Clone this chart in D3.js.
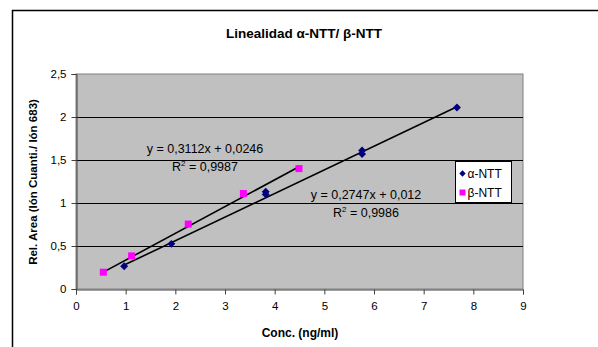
<!DOCTYPE html>
<html>
<head>
<meta charset="utf-8">
<script src="https://cdn.jsdelivr.net/npm/d3@7"></script>
<style>
  body { margin: 0; background: #fff; }
  svg { display: block; font-family: "Liberation Sans", Arial, sans-serif; }
</style>
</head>
<body>
<div id="chart"></div>
<script>
// data
const alphaX = [0.97, 1.92, 3.82, 3.82, 5.76, 5.76, 7.67];
const alphaY = [0.265, 0.525, 1.10, 1.13, 1.57, 1.61, 2.11];
const betaX = [0.55, 1.12, 2.26, 3.37, 4.49];
const betaY = [0.195, 0.385, 0.755, 1.11, 1.40];
const alphaFit = { slope: 0.2747, intercept: 0.012, eq: 'y = 0,2747x + 0,012', r2: '0,9986' };
const betaFit = { slope: 0.3112, intercept: 0.0246, eq: 'y = 0,3112x + 0,0246', r2: '0,9987' };
const xTicks = [0, 1, 2, 3, 4, 5, 6, 7, 8, 9];
const yTicks = [0, 0.5, 1, 1.5, 2, 2.5];
const seriesNames = ['α-NTT', 'β-NTT'];

const width = 598, height = 347;
const plot = { left: 76, right: 523, top: 74, bottom: 289 };

const svg = d3.select('#chart').append('svg')
  .attr('width', width)
  .attr('height', height);

// outer frame (cut off on right and bottom)
svg.append('path')
  .attr('d', `M12.5,${height} V10.5 H${width}`)
  .attr('fill', 'none')
  .attr('stroke', '#000')
  .attr('stroke-width', 1.5);

const x = d3.scaleLinear().domain([0, 9]).range([plot.left, plot.right]);
const y = d3.scaleLinear().domain([0, 2.5]).range([plot.bottom, plot.top]);
const fmt = d => String(d).replace('.', ',');

svg.append('rect')
  .attr('x', plot.left)
  .attr('y', plot.top)
  .attr('width', plot.right - plot.left)
  .attr('height', plot.bottom - plot.top)
  .attr('fill', '#c0c0c0')
  .attr('stroke', '#808080')
  .attr('stroke-width', 1);

// gridlines
svg.append('g')
  .selectAll('line')
  .data(yTicks.filter(d => d > 0 && d < 2.5))
  .enter()
  .append('line')
  .attr('x1', plot.left)
  .attr('x2', plot.right)
  .attr('y1', d => Math.round(y(d)) + 0.5)
  .attr('y2', d => Math.round(y(d)) + 0.5)
  .attr('stroke', '#000')
  .attr('stroke-width', 1);

// axes
const xAxis = svg.append('g')
  .attr('transform', `translate(0,${plot.bottom + 0.5})`)
  .call(d3.axisBottom(x).tickValues(xTicks).tickSize(5).tickFormat(fmt));
const yAxis = svg.append('g')
  .attr('transform', `translate(${plot.left + 0.5},0)`)
  .call(d3.axisLeft(y).tickValues(yTicks).tickSize(5).tickFormat(fmt));

[xAxis, yAxis].forEach(a => {
  a.select('.domain').attr('stroke', '#404040');
  a.selectAll('.tick line').attr('stroke', '#404040');
  a.selectAll('.tick text')
    .style('font-size', '11.5px')
    .style('font-family', '"Liberation Sans", Arial, sans-serif')
    .attr('fill', '#000');
});
xAxis.selectAll('.tick text').attr('y', 8).attr('dy', '1.05em');
yAxis.selectAll('.tick text').attr('x', -10);

// trend lines
const fits = [
  { fit: betaFit, xs: betaX },
  { fit: alphaFit, xs: alphaX }
];
svg.append('g')
  .selectAll('line')
  .data(fits)
  .enter()
  .append('line')
  .attr('x1', d => x(d3.min(d.xs)))
  .attr('x2', d => x(d3.max(d.xs)))
  .attr('y1', d => y(d.fit.slope * d3.min(d.xs) + d.fit.intercept))
  .attr('y2', d => y(d.fit.slope * d3.max(d.xs) + d.fit.intercept))
  .attr('stroke', '#000')
  .attr('stroke-width', 1.6);

// markers
const alphaPts = alphaX.map((v, i) => ({ x: v, y: alphaY[i] }));
const betaPts = betaX.map((v, i) => ({ x: v, y: betaY[i] }));

svg.append('g')
  .selectAll('rect')
  .data(betaPts)
  .enter()
  .append('rect')
  .attr('x', d => x(d.x) - 3.5)
  .attr('y', d => y(d.y) - 3.5)
  .attr('width', 7)
  .attr('height', 7)
  .attr('fill', '#ff00ff');

const diamond = d3.symbol().type(d3.symbolDiamond2).size(40);
svg.append('g')
  .selectAll('path')
  .data(alphaPts)
  .enter()
  .append('path')
  .attr('d', diamond)
  .attr('transform', d => `translate(${x(d.x)},${y(d.y)})`)
  .attr('fill', '#000080');

// equation labels
const labels = [
  { fit: betaFit, cx: 205, cy: 153 },
  { fit: alphaFit, cx: 366, cy: 199 }
];
labels.forEach(l => {
  const t = svg.append('text')
    .attr('text-anchor', 'middle')
    .style('font-size', '12.5px')
    .attr('fill', '#000');
  t.append('tspan').attr('x', l.cx).attr('y', l.cy).text(l.fit.eq);
  const r = t.append('tspan').attr('x', l.cx).attr('y', l.cy + 18);
  r.append('tspan').text('R');
  r.append('tspan').attr('dy', -5).style('font-size', '8px').text('2');
  r.append('tspan').attr('dy', 5).text(' = ' + l.fit.r2);
});

// legend
const legend = svg.append('g').attr('transform', 'translate(455.5,161.5)');
legend.append('rect')
  .attr('width', 56)
  .attr('height', 41)
  .attr('fill', '#fff')
  .attr('stroke', '#000')
  .attr('stroke-width', 1);
const items = legend.selectAll('.legend')
  .data(seriesNames)
  .enter()
  .append('g')
  .attr('class', 'legend')
  .attr('transform', (d, i) => `translate(0,${12 + i * 19})`);
items.filter((d, i) => i === 0)
  .append('path')
  .attr('d', d3.symbol().type(d3.symbolDiamond2).size(26))
  .attr('transform', 'translate(7,0)')
  .attr('fill', '#000080');
items.filter((d, i) => i === 1)
  .append('rect')
  .attr('x', 4).attr('y', -3)
  .attr('width', 6).attr('height', 6)
  .attr('fill', '#ff00ff');
items.append('text')
  .attr('x', 12)
  .attr('y', 4.5)
  .text(d => d)
  .style('font-size', '12px')
  .attr('fill', '#000');

// titles
svg.append('text')
  .attr('x', 304)
  .attr('y', 38)
  .attr('text-anchor', 'middle')
  .style('font-size', '13.5px')
  .style('font-weight', 'bold')
  .text('Linealidad α-NTT/ β-NTT');

svg.append('text')
  .attr('x', 300)
  .attr('y', 337)
  .attr('text-anchor', 'middle')
  .style('font-size', '12px')
  .style('font-weight', 'bold')
  .text('Conc. (ng/ml)');

svg.append('text')
  .attr('transform', 'translate(37,182) rotate(-90)')
  .attr('text-anchor', 'middle')
  .style('font-size', '11.5px')
  .style('font-weight', 'bold')
  .text('Rel. Area (Ión Cuanti./ Ión 683)');
</script>
</body>
</html>
